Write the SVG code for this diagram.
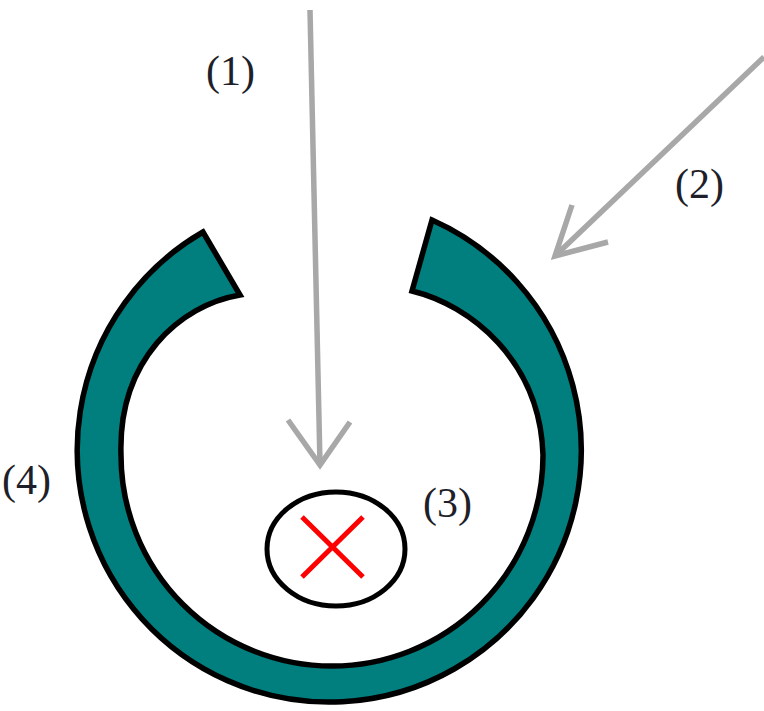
<svg xmlns="http://www.w3.org/2000/svg" width="764" height="711" viewBox="0 0 764 711">
<style>
.lbl{font-family:"Liberation Serif","Times New Roman",serif;font-size:42px;fill:#1f1f2a}
.arr{fill:none;stroke:#a8a8a8;stroke-width:5.5;stroke-linecap:butt;stroke-linejoin:miter}
</style>
<rect width="764" height="711" fill="#ffffff"/>
<g id="ring">
<path d="M203,232 A252,252 0 1 0 432,220 L412,291 C470,305 540,360 543,455 A211,211 0 0 1 121,455 C118,360 180,305 240,295 Z" fill="#007f7e" stroke="#000" stroke-width="5.5" stroke-linejoin="miter"/>
</g>
<g id="target">
<ellipse cx="336" cy="549" rx="69" ry="57" fill="#fff" stroke="#000" stroke-width="5"/>
<path d="M302,517 L363,577 M363,517 L302,577" stroke="#ff0000" stroke-width="5" fill="none"/>
</g>
<g id="connectors">
<path class="arr" d="M310,10 L320,465"/>
<path class="arr" d="M288,420 L320,465 L350,422"/>
<path class="arr" d="M764,57 L555,256"/>
<path class="arr" d="M572,205 L555,256 L608,242"/>
</g>
<g id="labels">
<text class="lbl" x="206" y="85">(1)</text>
<text class="lbl" x="675" y="198">(2)</text>
<text class="lbl" x="423" y="517">(3)</text>
<text class="lbl" x="2" y="494">(4)</text>
</g>
</svg>
